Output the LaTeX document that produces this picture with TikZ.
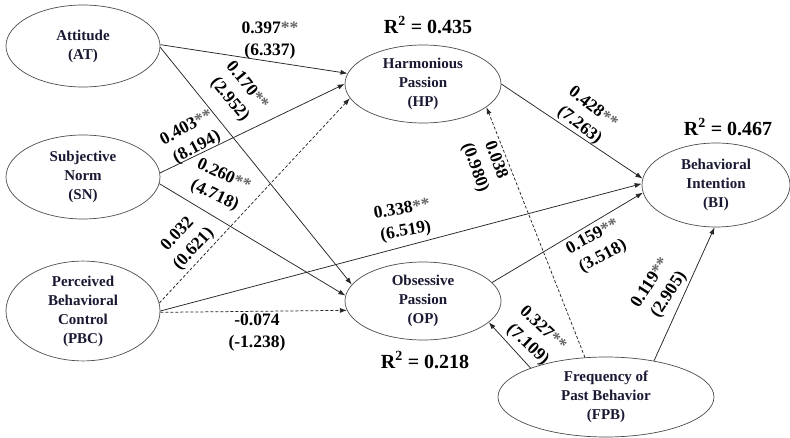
\documentclass[tikz,border=0pt]{standalone}
\usepackage{fontspec}
\setmainfont{Liberation Serif}
\usetikzlibrary{shapes.geometric,arrows.meta}
\definecolor{nodetext}{rgb}{0.10,0.10,0.20}
\newcommand\twostar{\textcolor{black!60}{**}}
\begin{document}
\begin{tikzpicture}[x=1pt,y=-1pt,
  latent/.style={draw=black!70, line width=0.7pt, ellipse, inner sep=0pt, align=center,
    font=\fontsize{15}{19}\selectfont\bfseries, text=nodetext},
  sig/.style={draw=black!85, line width=0.75pt, -{Latex[length=7pt,width=5pt]}},
  nsig/.style={sig, dash pattern=on 3pt off 2pt},
  coef/.style={align=center, font=\fontsize{17.5}{22}\selectfont\bfseries, inner sep=0pt},
  rsq/.style={font=\fontsize{20}{24}\selectfont\bfseries, inner sep=0pt}]
\fill[white] (0,0) rectangle (790,438);
\useasboundingbox (0,0) rectangle (790,438);

% constructs
\node[latent, minimum width=154pt, minimum height=82pt] (AT)  at (83,46)  {Attitude\\(AT)};
\node[latent, minimum width=154pt, minimum height=84pt] (SN)  at (83,177) {Subjective\\Norm\\(SN)};
\node[latent, minimum width=154pt, minimum height=88pt] (PBC) at (83,311) {Perceived\\Behavioral\\Control\\(PBC)};
\node[latent, minimum width=156pt, minimum height=78pt] (HP)  at (423,84) {Harmonious\\Passion\\(HP)};
\node[latent, minimum width=156pt, minimum height=78pt] (OP)  at (423,301) {Obsessive\\Passion\\(OP)};
\node[latent, minimum width=148pt, minimum height=84pt] (BI)  at (716,185) {Behavioral\\Intention\\(BI)};
\node[latent, minimum width=216pt, minimum height=80pt] (FPB) at (606,397) {Frequency of\\Past Behavior\\(FPB)};

% R squared
\node[rsq] (r1) at (428,25)  {R\textsuperscript{2} = 0.435};
\node[rsq] (r2) at (728,127) {R\textsuperscript{2} = 0.467};
\node[rsq] (r3) at (425,360) {R\textsuperscript{2} = 0.218};

% paths
\draw[sig]  (AT.1)   -- (HP.172);
\draw[sig]  (AT.-1)  -- (OP.167);
\draw[sig]  (SN.3)   -- (HP.180);
\draw[sig]  (SN.-5)  -- (OP.176);
\draw[nsig] (PBC.6)  -- (HP.191);
\draw[sig]  (PBC.0)  -- (BI.179);
\draw[nsig] (PBC.-1) -- (OP.187);
\draw[sig]  (HP.0)   -- (BI.175);
\draw[sig]  (OP.15)  -- (BI.186);
\draw[nsig] (FPB.118) -- (HP.-20);
\draw[sig]  (FPB.159) -- (OP.-18);
\draw[sig]  (FPB.37)  -- (BI.268);

% coefficients
\node[coef] (c1)  at (270,41)  {0.397\twostar\\(6.337)};
\node[coef, rotate=-51] (c2) at (238,93) {0.170\twostar\\(2.952)};
\node[coef, rotate=28]  (c3) at (192,138) {0.403\twostar\\(8.194)};
\node[coef, rotate=-25] (c4) at (219,186) {0.260\twostar\\(4.718)};
\node[coef, rotate=47]  (c5) at (186,242) {0.032\\(0.621)};
\node[coef, rotate=10]  (c6) at (404,221) {0.338\twostar\\(6.519)};
\node[coef] (c7) at (257,333) {-0.074\\(-1.238)};
\node[coef, rotate=-38] (c8) at (586,117) {0.428\twostar\\(7.263)};
\node[coef, rotate=-70] (c9) at (485,164) {0.038\\(0.980)};
\node[coef, rotate=28]  (c10) at (598,247) {0.159\twostar\\(3.518)};
\node[coef, rotate=-43] (c11) at (535,337) {0.327\twostar\\(7.109)};
\node[coef, rotate=57]  (c12) at (660,289) {0.119\twostar\\(2.905)};
\end{tikzpicture}
\end{document}
